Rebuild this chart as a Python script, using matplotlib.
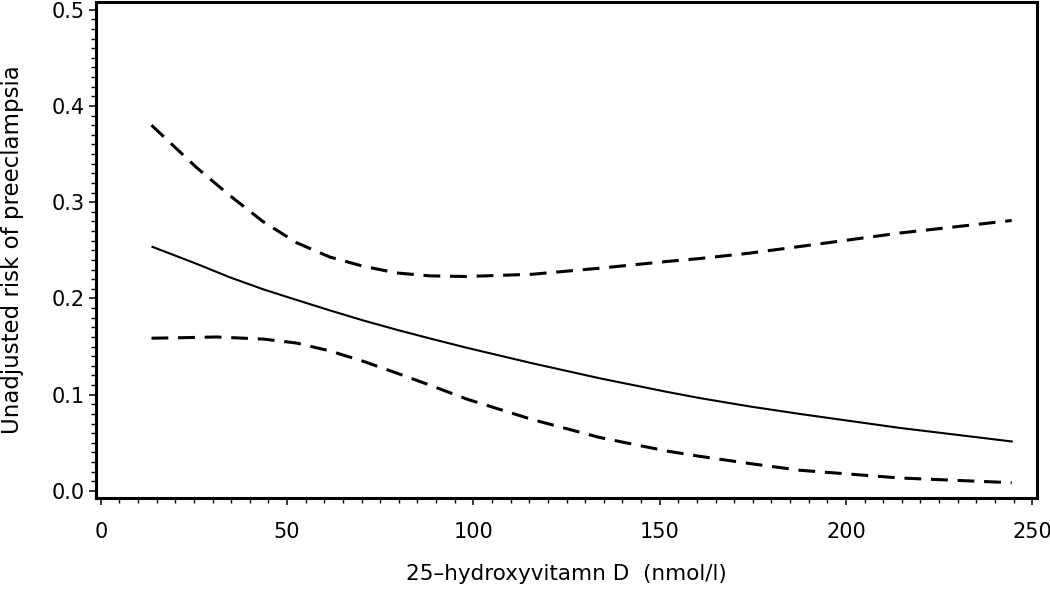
import matplotlib
matplotlib.use("Agg")
import matplotlib.pyplot as plt
from matplotlib.ticker import MultipleLocator, FormatStrFormatter

# Data
x_est = [13.6, 25.7, 34.6, 43.6, 52.5, 61.5, 70.4, 79.4, 88.3, 98.2, 116, 134, 151.9, 160.8, 174.2, 187.7, 214.5, 244.8]
y_est = [0.254, 0.236, 0.222, 0.2095, 0.1985, 0.1876, 0.1772, 0.1675, 0.1585, 0.1488, 0.1325, 0.117, 0.103, 0.0965, 0.0878, 0.0800, 0.0655, 0.0513]

x_upper = [13.6, 25.7, 34.6, 43.5, 52.5, 61.5, 70.4, 79.4, 88.3, 98.2, 116, 134, 151.9, 160.8, 174, 187.7, 214.5, 244.5]
y_upper = [0.380, 0.336, 0.307, 0.280, 0.258, 0.243, 0.2335, 0.2265, 0.2235, 0.2228, 0.2252, 0.2315, 0.2384, 0.2415, 0.247, 0.254, 0.268, 0.281]

x_lower = [13.6, 23.9, 31, 43.6, 52.5, 61.5, 70.4, 79.4, 88.3, 98.2, 116, 134, 151.9, 160.8, 174.2, 187.7, 214.5, 244.5]
y_lower = [0.1587, 0.1594, 0.160, 0.1578, 0.1537, 0.1455, 0.1348, 0.1225, 0.110, 0.0955, 0.0740, 0.0555, 0.0415, 0.0360, 0.0285, 0.0215, 0.0135, 0.0086]

x_label = "25\u2013hydroxyvitamn D  (nmol/l)"
y_label = "Unadjusted risk of preeclampsia"

plt.rcParams['font.family'] = ['DejaVu Sans']

fig = plt.figure(figsize=(10.5, 5.91), dpi=100)
ax = fig.add_axes([96/1050, 1 - 498/591, (1037 - 96)/1050, (498 - 2)/591])

ax.plot(x_est, y_est, color='black', lw=1.5, solid_capstyle='butt')
for xs, ys in [(x_upper, y_upper), (x_lower, y_lower)]:
    ax.plot(xs, ys, color='black', lw=2.2, dashes=(5.5, 3.2), dash_capstyle='butt')

ax.set_xlim(-1.3, 251.3)
ax.set_ylim(-0.0073, 0.508)

ax.xaxis.set_major_locator(MultipleLocator(50))
ax.xaxis.set_minor_locator(MultipleLocator(5))
ax.yaxis.set_major_locator(MultipleLocator(0.1))
ax.yaxis.set_minor_locator(MultipleLocator(0.01))
ax.yaxis.set_major_formatter(FormatStrFormatter('%.1f'))

for s in ax.spines.values():
    s.set_linewidth(2.2)

ax.tick_params(which='major', direction='out', length=5, width=1.1, labelsize=15)
ax.tick_params(axis='x', which='major', pad=12)
ax.tick_params(axis='y', which='major', pad=3)
ax.tick_params(which='minor', direction='out', length=3.5, width=1.0)

ax.set_xlabel(x_label, fontsize=15.5, labelpad=16)
ax.set_ylabel(y_label, fontsize=16.5, labelpad=20)

fig.savefig("out.png", dpi=100)
